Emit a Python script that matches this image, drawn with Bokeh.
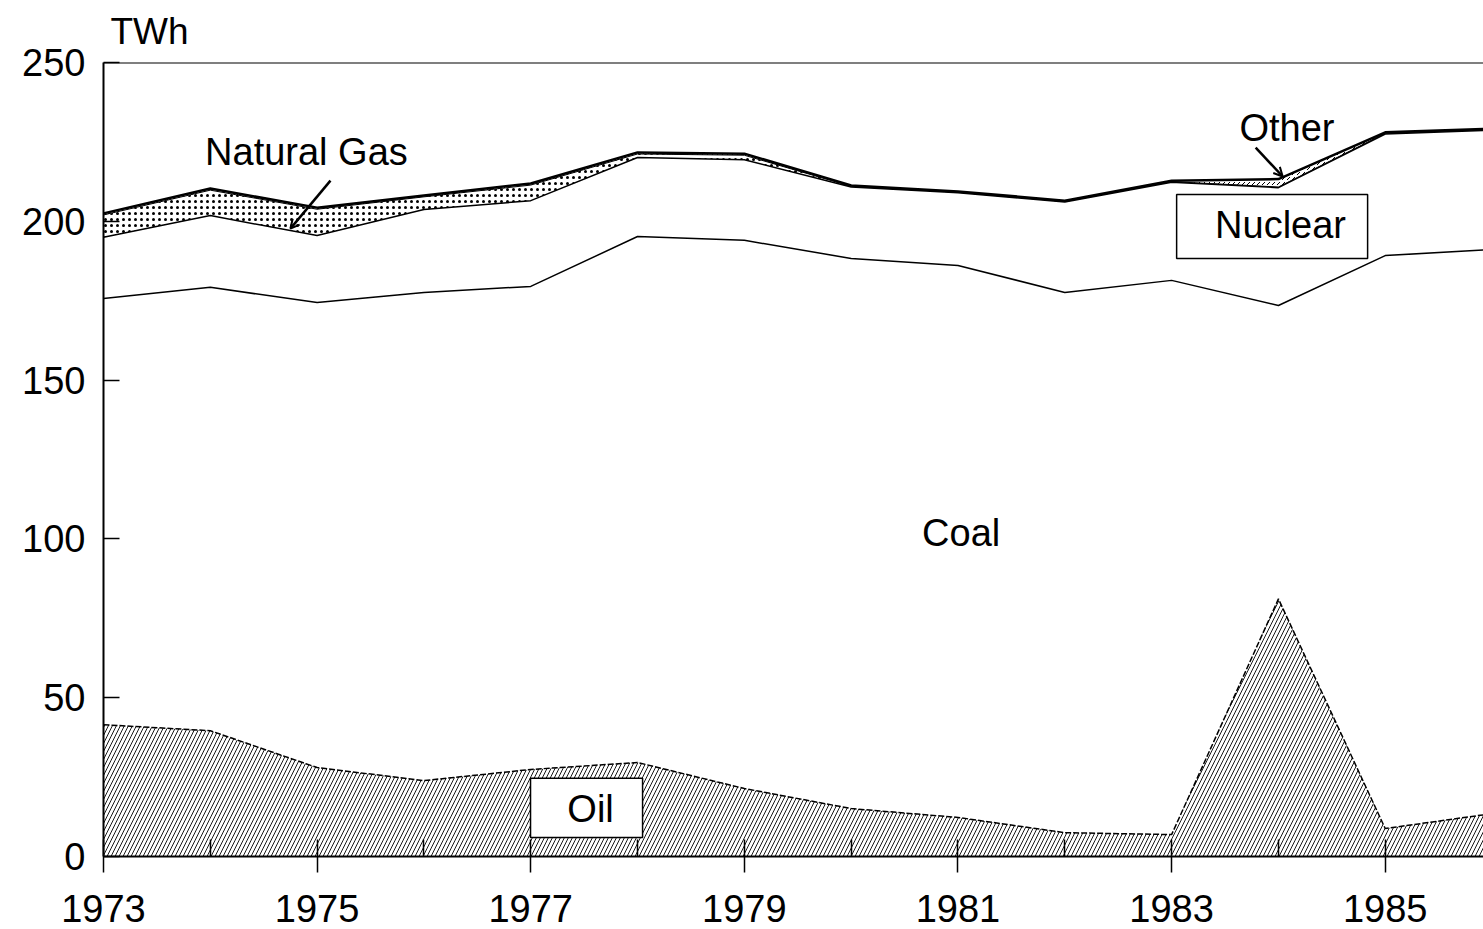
import numpy as np
from bokeh.plotting import figure
from bokeh.models import (Range1d, FixedTicker, Span, Label, BoxAnnotation,
                          Arrow, OpenHead, ColumnDataSource)
from bokeh.embed import file_html
from bokeh.resources import INLINE

# ---- data (TWh) ----
years = [1973, 1974, 1975, 1976, 1977, 1978, 1979, 1980, 1981, 1982, 1983, 1984, 1985, 1986]
oil = [41.5, 39.6, 28.0, 23.9, 27.4, 29.6, 21.4, 15.1, 12.3, 7.5, 6.9, 81.1, 8.8, 13.5]
coal = [134.2, 139.6, 146.4, 153.7, 152.1, 165.6, 172.6, 173.2, 173.8, 170.1, 174.5, 92.4, 180.4, 177.6]
nuclear = [19.3, 22.6, 21.1, 26.1, 27.0, 24.9, 25.4, 22.5, 22.9, 28.5, 30.9, 37.1, 38.3, 37.6]
natural_gas = [7.0, 8.0, 8.3, 4.0, 4.9, 1.1, 1.4, 0.2, 0.2, 0.2, 0.2, 0.2, 0.2, 0.2]
other = [0.5, 0.5, 0.5, 0.4, 0.5, 0.5, 0.5, 0.3, 0.2, 0.2, 0.3, 2.5, 0.3, 0.3]

y_ticks = [0, 50, 100, 150, 200, 250]
x_major = [1973, 1975, 1977, 1979, 1981, 1983, 1985]
x_minor = [1974, 1976, 1978, 1980, 1982, 1984, 1986]

FONT = "Liberation Sans"

layers = np.array([oil, coal, nuclear, natural_gas, other])
cum = np.cumsum(layers, axis=0)
src = ColumnDataSource(dict(
    x=years,
    base=np.zeros(len(years)),
    oil_top=cum[0], coal_top=cum[1], nuc_top=cum[2], gas_top=cum[3], total=cum[4],
))

p = figure(width=1483, height=929, output_backend="svg", toolbar_location=None,
           x_range=Range1d(1973, 1985.92), y_range=Range1d(0, 250),
           min_border_left=103, min_border_right=0, min_border_top=62, min_border_bottom=73,
           title="TWh")
p.outline_line_color = None
p.grid.visible = False
p.background_fill_color = "white"
p.border_fill_color = "white"

# unit label as title
p.title.align = "left"
p.title.offset = 7
p.title.standoff = 17
p.title.vertical_align = "top"
p.title.text_font = FONT
p.title.text_font_size = "37px"
p.title.text_font_style = "normal"
p.title.text_color = "black"

# areas
p.varea(x="x", y1="base", y2="oil_top", source=src, fill_color="white",
        hatch_pattern="/", hatch_color="black", hatch_scale=8, hatch_weight=0.9)
p.varea(x="x", y1="nuc_top", y2="gas_top", source=src, fill_color="white",
        hatch_pattern="dot", hatch_color="black", hatch_scale=6, hatch_weight=1)
p.varea(x="x", y1="gas_top", y2="total", source=src, fill_color="white",
        hatch_pattern=",", hatch_color="black", hatch_scale=5, hatch_weight=1)

# boundary lines
p.line(x="x", y="oil_top", source=src, line_color="black", line_width=1.5, line_dash="6 2")
p.line(x="x", y="coal_top", source=src, line_color="black", line_width=1.5)
p.line(x="x", y="nuc_top", source=src, line_color="black", line_width=1.5)
p.line(x="x", y="gas_top", source=src, line_color="black", line_width=1)
p.line(x="x", y="total", source=src, line_color="black", line_width=2.5)

# top frame line
p.add_layout(Span(location=250, dimension="width", line_color="black", line_width=2))

# axes
p.yaxis.ticker = FixedTicker(ticks=y_ticks)
p.yaxis.major_tick_in = 16
p.yaxis.major_tick_out = 0
p.yaxis.minor_tick_in = 0
p.yaxis.minor_tick_out = 0
p.yaxis.axis_line_width = 2
p.yaxis.major_tick_line_width = 1.5
p.yaxis.major_label_standoff = 18
p.yaxis.major_label_text_font = FONT
p.yaxis.major_label_text_font_size = "38px"
p.yaxis.major_label_text_color = "black"

p.xaxis.ticker = FixedTicker(ticks=x_major, minor_ticks=x_minor)
p.xaxis.major_tick_in = 17
p.xaxis.major_tick_out = 16
p.xaxis.minor_tick_in = 17
p.xaxis.minor_tick_out = 0
p.xaxis.axis_line_width = 2
p.xaxis.major_tick_line_width = 1.5
p.xaxis.minor_tick_line_width = 1.5
p.xaxis.major_label_standoff = 22
p.xaxis.major_label_text_font = FONT
p.xaxis.major_label_text_font_size = "38px"
p.xaxis.major_label_text_color = "black"

def lab(text, x, y, size="38px", align="center", baseline="middle"):
    p.add_layout(Label(x=x, y=y, text=text, text_font=FONT, text_font_size=size,
                       text_color="black", text_align=align, text_baseline=baseline))

# boxes
p.add_layout(BoxAnnotation(left=1983.047, right=1984.835, bottom=188.3, top=208.4,
                           fill_color="white", fill_alpha=1, line_color="black",
                           line_width=1.5, line_alpha=1))
p.add_layout(BoxAnnotation(left=1976.998, right=1978.047, bottom=6.0, top=24.6,
                           fill_color="white", fill_alpha=1, line_color="black",
                           line_width=1.5, line_alpha=1))

lab("Natural Gas", 1974.90, 221.7)
lab("Other", 1984.08, 229.5)
lab("Coal", 1981.03, 102.0)
lab("Nuclear", 1984.02, 198.7)
lab("Oil", 1977.56, 15.1)

# arrows
p.add_layout(Arrow(end=OpenHead(size=9, line_width=2), x_start=1975.125, y_start=212.8,
                   x_end=1974.75, y_end=197.7, line_width=2.5))
p.add_layout(Arrow(end=OpenHead(size=9, line_width=2), x_start=1983.787, y_start=223.2,
                   x_end=1984.04, y_end=214.1, line_width=2.5))

open("out.html", "w").write(file_html(p, INLINE))
